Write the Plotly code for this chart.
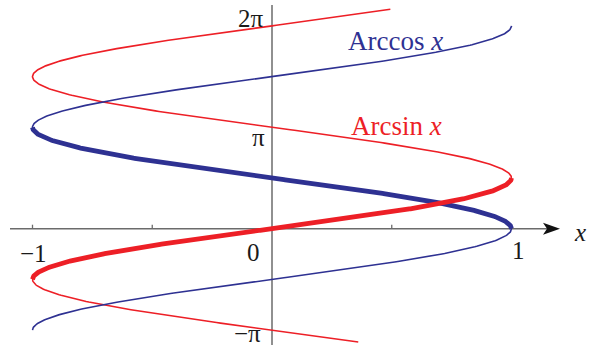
import numpy as np
import plotly.graph_objects as go

# branch ranges (in y) for the multivalued curves: x = sin(y), x = cos(y)
arcsin_full = [-3.51, 6.80]
arcsin_principal = [-np.pi / 2, np.pi / 2]
arccos_full = [-np.pi, 2 * np.pi]
arccos_principal = [0, np.pi]

x_ticks = [-1, -0.5, 0.5]
x_tick_labels = {"−1": -1, "0": 0, "1": 1}
y_tick_labels = {"2π": 2 * np.pi, "π": np.pi, "−π": -np.pi}

RED = "#ED1F26"
BLUE = "#2E3192"
GRAY = "#6b6b6b"

W, H = 591, 348
X0_PX, X_UNIT = 272, 239.5
Y0_PX, Y_UNIT = 228.7, 32.28

def px2x(px):
    return (px - X0_PX) / X_UNIT

def py2y(py):
    return (Y0_PX - py) / Y_UNIT

def branch(yr, f):
    y = np.linspace(yr[0], yr[1], 600)
    return f(y), y

fig = go.Figure()

# thin full curves
for yr, f, col in [(arcsin_full, np.sin, RED), (arccos_full, np.cos, BLUE)]:
    x, y = branch(yr, f)
    fig.add_trace(go.Scatter(x=x, y=y, mode="lines", line=dict(color=col, width=1.6),
                             hoverinfo="skip", showlegend=False))

# thick principal branches
for yr, f, col in [(arccos_principal, np.cos, BLUE), (arcsin_principal, np.sin, RED)]:
    x, y = branch(yr, f)
    fig.add_trace(go.Scatter(x=x, y=y, mode="lines", line=dict(color=col, width=4.8),
                             hoverinfo="skip", showlegend=False))

shapes = []
# x axis
shapes.append(dict(type="line", x0=px2x(10), x1=px2x(550), y0=0, y1=0,
                   line=dict(color=GRAY, width=1.5), layer="below"))
# y axis
shapes.append(dict(type="line", x0=0, x1=0, y0=py2y(345), y1=py2y(5),
                   line=dict(color=GRAY, width=1.5), layer="below"))
# arrow head
tip, back, notch, half = 560, 543, 547, 6
path = (f"M {px2x(tip)},{py2y(Y0_PX)} L {px2x(back)},{py2y(Y0_PX - half)} "
        f"L {px2x(notch)},{py2y(Y0_PX)} L {px2x(back)},{py2y(Y0_PX + half)} Z")
shapes.append(dict(type="path", path=path, fillcolor="#111111", line=dict(width=0)))
# small ticks
for t in x_ticks:
    shapes.append(dict(type="line", x0=t, x1=t, y0=0, y1=py2y(Y0_PX - 4),
                       line=dict(color=GRAY, width=1.3), layer="below"))

font = dict(family="Liberation Serif", size=25, color="#1a1a1a")
annotations = []
x_label_pos = {"−1": (33, 253), "0": (253, 252), "1": (518, 250)}
for txt in x_tick_labels:
    px, py = x_label_pos[txt]
    annotations.append(dict(x=px2x(px), y=py2y(py), text=txt, showarrow=False, font=font))
y_label_pos = {"2π": (251, 18), "π": (258, 137), "−π": (247, 333)}
for txt in y_tick_labels:
    px, py = y_label_pos[txt]
    annotations.append(dict(x=px2x(px), y=py2y(py), text=txt, showarrow=False, font=font,
                            borderpad=0))
annotations.append(dict(x=px2x(580), y=py2y(232), text="<i>x</i>", showarrow=False, font=font))
annotations.append(dict(x=px2x(395), y=py2y(41), text="Arccos <i>x</i>", showarrow=False,
                        font=dict(family="Liberation Serif", size=27, color=BLUE)))
annotations.append(dict(x=px2x(396), y=py2y(126), text="Arcsin <i>x</i>", showarrow=False,
                        font=dict(family="Liberation Serif", size=27, color=RED)))

fig.update_layout(
    width=W, height=H,
    margin=dict(l=0, r=0, t=0, b=0),
    paper_bgcolor="white", plot_bgcolor="white",
    xaxis=dict(range=[px2x(0), px2x(W)], visible=False, fixedrange=True),
    yaxis=dict(range=[py2y(H), py2y(0)], visible=False, fixedrange=True),
    shapes=shapes, annotations=annotations,
)

# drop the default page margin so the figure fills the window
fig.write_html("out.html", config={"displayModeBar": False},
               post_script="document.body.style.margin='0';")
